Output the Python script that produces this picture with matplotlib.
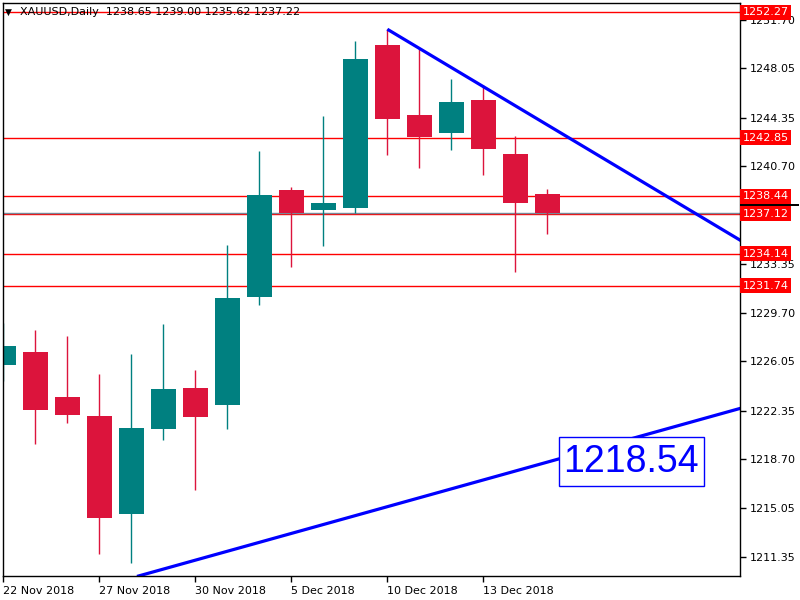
import matplotlib
matplotlib.use("Agg")
import matplotlib.pyplot as plt
import matplotlib.transforms as mtransforms
from matplotlib.patches import Rectangle

# ---------------- data ----------------
symbol = "XAUUSD,Daily"
opens  = [1225.80, 1226.76, 1223.38, 1221.95, 1214.62, 1221.00, 1224.06, 1222.80, 1230.88,
          1238.92, 1237.42, 1237.59, 1249.80, 1244.55, 1243.22, 1245.67, 1241.62, 1238.65]
highs  = [1228.91, 1228.41, 1227.98, 1225.11, 1226.63, 1228.86, 1225.41, 1234.79, 1241.84,
          1239.16, 1244.47, 1250.10, 1250.98, 1249.55, 1247.25, 1246.80, 1242.97, 1239.00]
lows   = [1224.60, 1219.85, 1221.43, 1211.62, 1210.94, 1220.18, 1216.42, 1221.00, 1230.28,
          1233.16, 1234.74, 1237.17, 1241.54, 1240.59, 1241.94, 1240.06, 1232.78, 1235.62]
closes = [1227.21, 1222.43, 1222.05, 1214.32, 1221.05, 1223.98, 1221.90, 1230.81, 1238.54,
          1237.17, 1237.94, 1248.75, 1244.22, 1242.87, 1245.52, 1242.02, 1237.96, 1237.22]

date_tick_pos = [0, 3, 6, 9, 12, 15]
date_tick_labels = ["22 Nov 2018", "27 Nov 2018", "30 Nov 2018", "5 Dec 2018",
                    "10 Dec 2018", "13 Dec 2018"]

price_ticks = [1251.70, 1248.05, 1244.35, 1240.70, 1233.35, 1229.70, 1226.05,
               1222.35, 1218.70, 1215.05, 1211.35]

levels = [1252.27, 1242.85, 1238.44, 1237.12, 1234.14, 1231.74]
bid = closes[-1]

resist_x = [12.0, 24.0]
resist_y = [1250.98, 1233.75]
support_x = [4.0, 23.0]
support_y = [1209.80, 1222.51]
box_label = "1218.54"

# ---------------- style ----------------
UP = "#008080"
DOWN = "#DC143C"
LINE_RED = "#FF0000"
BLUE = "#0000FF"
plt.rcParams["font.family"] = ["DejaVu Sans"]

fig = plt.figure(figsize=(8, 6), dpi=100)
fig.patch.set_facecolor("white")
ax = fig.add_axes([3 / 800, 24 / 600, 737 / 800, 573 / 600])
ax.set_facecolor("white")

ax.set_xlim(-0.01, 23.02)
ax.set_ylim(1209.95, 1252.95)

# horizontal levels
for lv in levels:
    ax.axhline(lv, color=LINE_RED, lw=1.0, zorder=1)
ax.axhline(bid, color="#778899", lw=1.0, zorder=1.1)

# candles
width = 0.78
for i, (o, h, l, c) in enumerate(zip(opens, highs, lows, closes)):
    col = UP if c >= o else DOWN
    ax.vlines(i, l, h, color=col, lw=1.0, zorder=2)
    bottom = min(o, c)
    height = max(abs(c - o), 0.05)
    ax.bar(i, height, bottom=bottom, width=width, color=col, edgecolor=col,
           linewidth=0, zorder=3)

# trend lines
ax.plot(resist_x, resist_y, color=BLUE, lw=2.3, zorder=4, solid_capstyle="butt")
ax.axline((support_x[0], support_y[0]), (support_x[1], support_y[1]),
          color=BLUE, lw=2.3, zorder=4)

# text box
fig.add_artist(Rectangle((558.5 / 800, (600 - 485.7) / 600), 145 / 800, 48.4 / 600,
                         transform=fig.transFigure, facecolor="white",
                         edgecolor=BLUE, linewidth=1.0, zorder=5))
fig.text(631 / 800, (600 - 462.5) / 600, box_label, color=BLUE,
         family="Liberation Sans", fontsize=27, ha="center", va="center", zorder=6)

# axes styling
for s in ax.spines.values():
    s.set_color("black")
    s.set_linewidth(1.0)
    s.set_zorder(7)

ax.yaxis.tick_right()
ax.set_yticks(price_ticks)
ax.set_yticklabels([f"{v:.2f}" for v in price_ticks])
ax.tick_params(axis="y", direction="out", length=4, width=1, pad=3,
               labelsize=8, colors="black")

ax.set_xticks(date_tick_pos)
ax.set_xticklabels(date_tick_labels, ha="left")
ax.tick_params(axis="x", direction="out", length=4, width=1, pad=3,
               labelsize=8, colors="black")

# right-side price labels
trans = mtransforms.blended_transform_factory(ax.transAxes, ax.transData)
# bid marker (black strip visible above the 1237.12 label)
ax.add_patch(Rectangle((1.002, 1237.68), 0.078, 0.16, transform=trans,
                       facecolor="black", edgecolor="none", clip_on=False, zorder=9))
for lv in levels:
    ax.text(1.0035, lv, f"{lv:.2f}", transform=trans, fontsize=8,
            color="white", va="center", ha="left", clip_on=False, zorder=10,
            bbox=dict(boxstyle="square,pad=0.22", fc=LINE_RED, ec="none"))

# header
hdr = f"{symbol}  {opens[-1]:.2f} {highs[-1]:.2f} {lows[-1]:.2f} {closes[-1]:.2f}"
fig.text(5 / 800, (600 - 12) / 600, "\u25BC", fontsize=6.5, color="black",
         ha="left", va="center")
fig.text(20 / 800, (600 - 12) / 600, hdr, fontsize=8, color="black",
         ha="left", va="center")

fig.savefig("out.png", dpi=100, facecolor="white")
